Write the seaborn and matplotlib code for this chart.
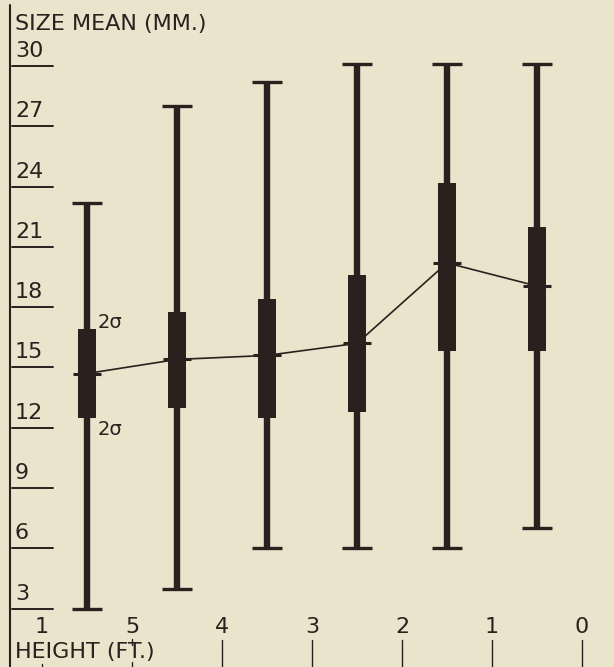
# Import libraries
import seaborn as sns
import matplotlib.pyplot as plt
import numpy as np

# Data (sizes in mm, heights in ft)
heights = [5.5, 4.5, 3.5, 2.5, 1.5, 0.5]
size_min = [3.0, 4.0, 6.0, 6.0, 6.0, 7.0]
size_lo2s = [12.5, 13.0, 12.5, 12.8, 15.8, 15.8]
size_mean = [14.7, 15.4, 15.6, 16.2, 20.2, 19.05]
size_hi2s = [16.9, 17.75, 18.4, 19.6, 24.2, 22.0]
size_max = [23.2, 28.0, 29.2, 30.1, 30.1, 30.1]

y_ticks = [3, 6, 9, 12, 15, 18, 21, 24, 27, 30]
x_ticks = [6, 5, 4, 3, 2, 1, 0]
x_labels = ['1', '5', '4', '3', '2', '1', '0']

ink = '#2a211e'
paper = '#ebe3cc'

sns.set_theme(style='white', rc={'figure.facecolor': paper, 'axes.facecolor': paper})
plt.rcParams['font.family'] = ['DejaVu Sans']

fig = plt.figure(figsize=(6.14, 6.67), dpi=100)
ax = fig.add_axes([0, 0, 1, 1])
ax.set_xlim(582 / 90, -32 / 90)
ax.set_ylim(0.10, 33.28)
ax.axis('off')

# line joining the means
sns.lineplot(x=heights, y=size_mean, color=ink, lw=1.2, ax=ax, zorder=1, sort=False)

# whiskers, caps, 2-sigma boxes, mean marks
hx = np.array(heights)
ax.vlines(heights, size_min, size_max, color=ink, lw=4.6, zorder=2)
ax.hlines(size_min, hx - 0.17, hx + 0.17, color=ink, lw=2.4, zorder=2)
ax.hlines(size_max, hx - 0.17, hx + 0.17, color=ink, lw=2.4, zorder=2)
ax.bar(heights, np.array(size_hi2s) - np.array(size_lo2s), bottom=size_lo2s,
       width=0.21, color=ink, edgecolor=ink, linewidth=0, zorder=3)
ax.hlines(size_mean, hx - 0.16, hx + 0.16, color=ink, lw=2.2, zorder=4)

# y axis drawn by hand, labels above short ticks
x_axis = 572 / 90
ax.plot([x_axis, x_axis], [0.10, 33.03], color=ink, lw=1.5)
for v in y_ticks:
    ax.plot([570 / 90, 529 / 90], [v, v], color=ink, lw=1.4)
    ax.text(567 / 90, v + 0.45, str(v), fontsize=16, color=ink, ha='left', va='baseline')
ax.text(567 / 90, 31.79, 'SIZE MEAN (MM.)', fontsize=16, color=ink, ha='left', va='baseline')

# x axis labels at the bottom
for h, lab in zip(x_ticks, x_labels):
    ax.text(h, 1.79, lab, fontsize=16, color=ink, ha='center', va='baseline')
    if h == 6:
        ax.plot([h, h], [0.25, 0.10], color=ink, lw=1.0)
    elif h == 5:
        ax.plot([h, h], [1.49, 1.19], color=ink, lw=1.0)
        ax.plot([h, h], [0.35, 0.10], color=ink, lw=1.0)
    else:
        ax.plot([h, h], [1.44, 0.10], color=ink, lw=1.0)
ax.text(567 / 90, 0.55, 'HEIGHT (FT.)', fontsize=16, color=ink, ha='left', va='baseline')

# sigma notes by the first box
ax.text(5.378, 16.97, '2σ', fontsize=14, color=ink, ha='left', va='baseline')
ax.text(5.378, 11.64, '2σ', fontsize=14, color=ink, ha='left', va='baseline')

plt.savefig('out.png', dpi=100, facecolor=paper)
